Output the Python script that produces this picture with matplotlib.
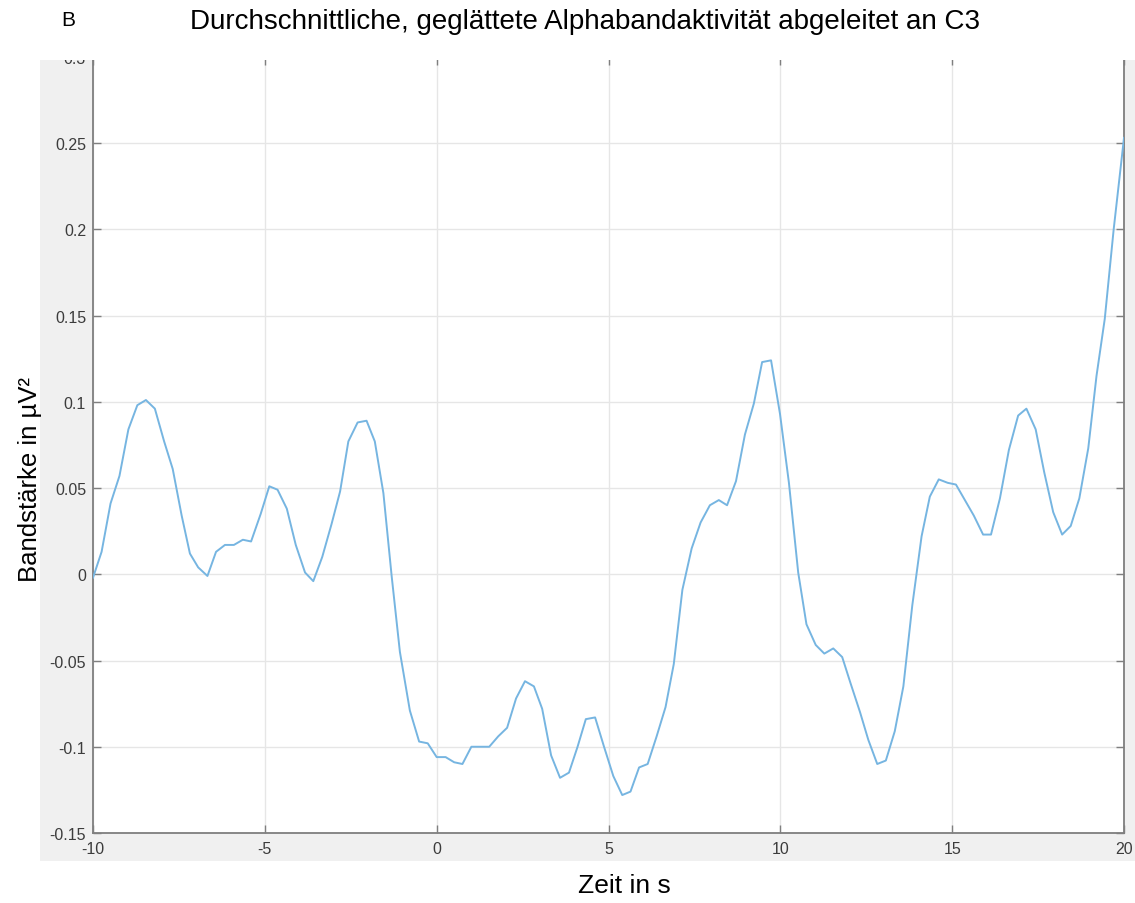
import numpy as np
import matplotlib
matplotlib.use('Agg')
import matplotlib.pyplot as plt
from matplotlib.patches import Rectangle
from matplotlib.ticker import FormatStrFormatter

# time (s) and smoothed alpha band power (uV^2)
zeit = [-10.00, -9.75, -9.49, -9.23, -8.97, -8.71, -8.46, -8.20, -7.93, -7.68,
        -7.42, -7.18, -6.94, -6.67, -6.42, -6.16, -5.90, -5.64, -5.40, -5.12,
        -4.87, -4.63, -4.36, -4.10, -3.83, -3.59, -3.33, -3.06, -2.81, -2.57,
        -2.30, -2.04, -1.80, -1.55, -1.31, -1.07, -0.78, -0.51, -0.26, 0.00,
        0.26, 0.51, 0.75, 1.01, 1.28, 1.53, 1.79, 2.05, 2.31, 2.57,
        2.83, 3.07, 3.33, 3.59, 3.85, 4.10, 4.34, 4.61, 4.87, 5.14,
        5.40, 5.64, 5.89, 6.14, 6.40, 6.66, 6.90, 7.15, 7.42, 7.68,
        7.95, 8.21, 8.45, 8.71, 8.97, 9.23, 9.47, 9.73, 9.99, 10.25,
        10.52, 10.76, 11.03, 11.28, 11.54, 11.80, 12.04, 12.32, 12.56, 12.82,
        13.07, 13.33, 13.58, 13.84, 14.11, 14.35, 14.61, 14.87, 15.11, 15.37,
        15.63, 15.90, 16.13, 16.39, 16.65, 16.92, 17.16, 17.43, 17.68, 17.94,
        18.20, 18.45, 18.70, 18.96, 19.20, 19.44, 19.70, 20.00]
alpha_c3 = [-0.002, 0.013, 0.041, 0.057, 0.084, 0.098, 0.101, 0.096, 0.077, 0.061,
            0.034, 0.012, 0.004, -0.001, 0.013, 0.017, 0.017, 0.020, 0.019, 0.035,
            0.051, 0.049, 0.038, 0.017, 0.001, -0.004, 0.010, 0.029, 0.048, 0.077,
            0.088, 0.089, 0.077, 0.047, -0.001, -0.045, -0.079, -0.097, -0.098, -0.106,
            -0.106, -0.109, -0.110, -0.100, -0.100, -0.100, -0.094, -0.089, -0.072, -0.062,
            -0.065, -0.078, -0.105, -0.118, -0.115, -0.100, -0.084, -0.083, -0.100, -0.117,
            -0.128, -0.126, -0.112, -0.110, -0.094, -0.077, -0.052, -0.009, 0.015, 0.030,
            0.040, 0.043, 0.040, 0.054, 0.081, 0.099, 0.123, 0.124, 0.093, 0.053,
            0.001, -0.029, -0.041, -0.046, -0.043, -0.048, -0.063, -0.080, -0.096, -0.110,
            -0.108, -0.091, -0.065, -0.018, 0.022, 0.045, 0.055, 0.053, 0.052, 0.043,
            0.034, 0.023, 0.023, 0.044, 0.072, 0.092, 0.096, 0.084, 0.059, 0.036,
            0.023, 0.028, 0.044, 0.073, 0.115, 0.148, 0.200, 0.253]

x_ticks = [-10, -5, 0, 5, 10, 15, 20]
y_ticks = [-0.15, -0.1, -0.05, 0, 0.05, 0.1, 0.15, 0.2, 0.25, 0.3]

W, H = 1135, 904
plt.rcParams['font.family'] = ['Liberation Sans', 'DejaVu Sans']
plt.rcParams['axes.unicode_minus'] = False

fig = plt.figure(figsize=(W / 100, H / 100), dpi=100)

# matlab-like grey figure background (cropped screenshot)
fig.patches.append(Rectangle((40 / W, 1 - 862 / H), 1 - 40 / W, (862 - 61) / H,
                             transform=fig.transFigure, facecolor='#f0f0f0',
                             edgecolor='none', zorder=-1))

ax = fig.add_axes([93 / W, 1 - 834 / H, (1124 - 93) / W, (834 - 57.75) / H])
ax.set_facecolor('white')
ax.plot(zeit, alpha_c3, color='#76b5e1', lw=1.4, zorder=3)

ax.set_xlim(-10, 20)
ax.set_ylim(-0.15, 0.3)
ax.set_xticks(x_ticks)
ax.set_yticks(y_ticks)
ax.yaxis.set_major_formatter(FormatStrFormatter('%g'))
ax.grid(True, color='#e6e6e6', lw=1.0, zorder=0)
ax.set_axisbelow(True)
ax.tick_params(direction='in', length=6, width=1.0, color='#7f7f7f',
               labelcolor='#3c3c3c', labelsize=11.5, top=True, right=True)
ax.tick_params(axis='x', pad=6)
ax.tick_params(axis='y', pad=5)
for s in ax.spines.values():
    s.set_color('#7f7f7f')
    s.set_linewidth(1.3)

# white band over the top (screenshot was cut there)
fig.patches.append(Rectangle((0, 1 - 61 / H), 1, 61 / H, transform=fig.transFigure,
                             facecolor='white', edgecolor='none', zorder=10))

fig.text(585 / W, 1 - 22 / H, 'Durchschnittliche, geglättete Alphabandaktivität abgeleitet an C3',
         ha='center', va='center', fontsize=20, color='black', zorder=11)
fig.text(68 / W, 1 - 21 / H, 'B', ha='center', va='center', fontsize=15,
         color='black', zorder=11)
fig.text(624 / W, 1 - 886 / H, 'Zeit in s', ha='center', va='center',
         fontsize=19, color='black')
fig.text(30 / W, 1 - 480 / H, 'Bandstärke in µV²', ha='center', va='center',
         rotation=90, fontsize=18.5, color='black')

fig.savefig('out.png', dpi=100)
